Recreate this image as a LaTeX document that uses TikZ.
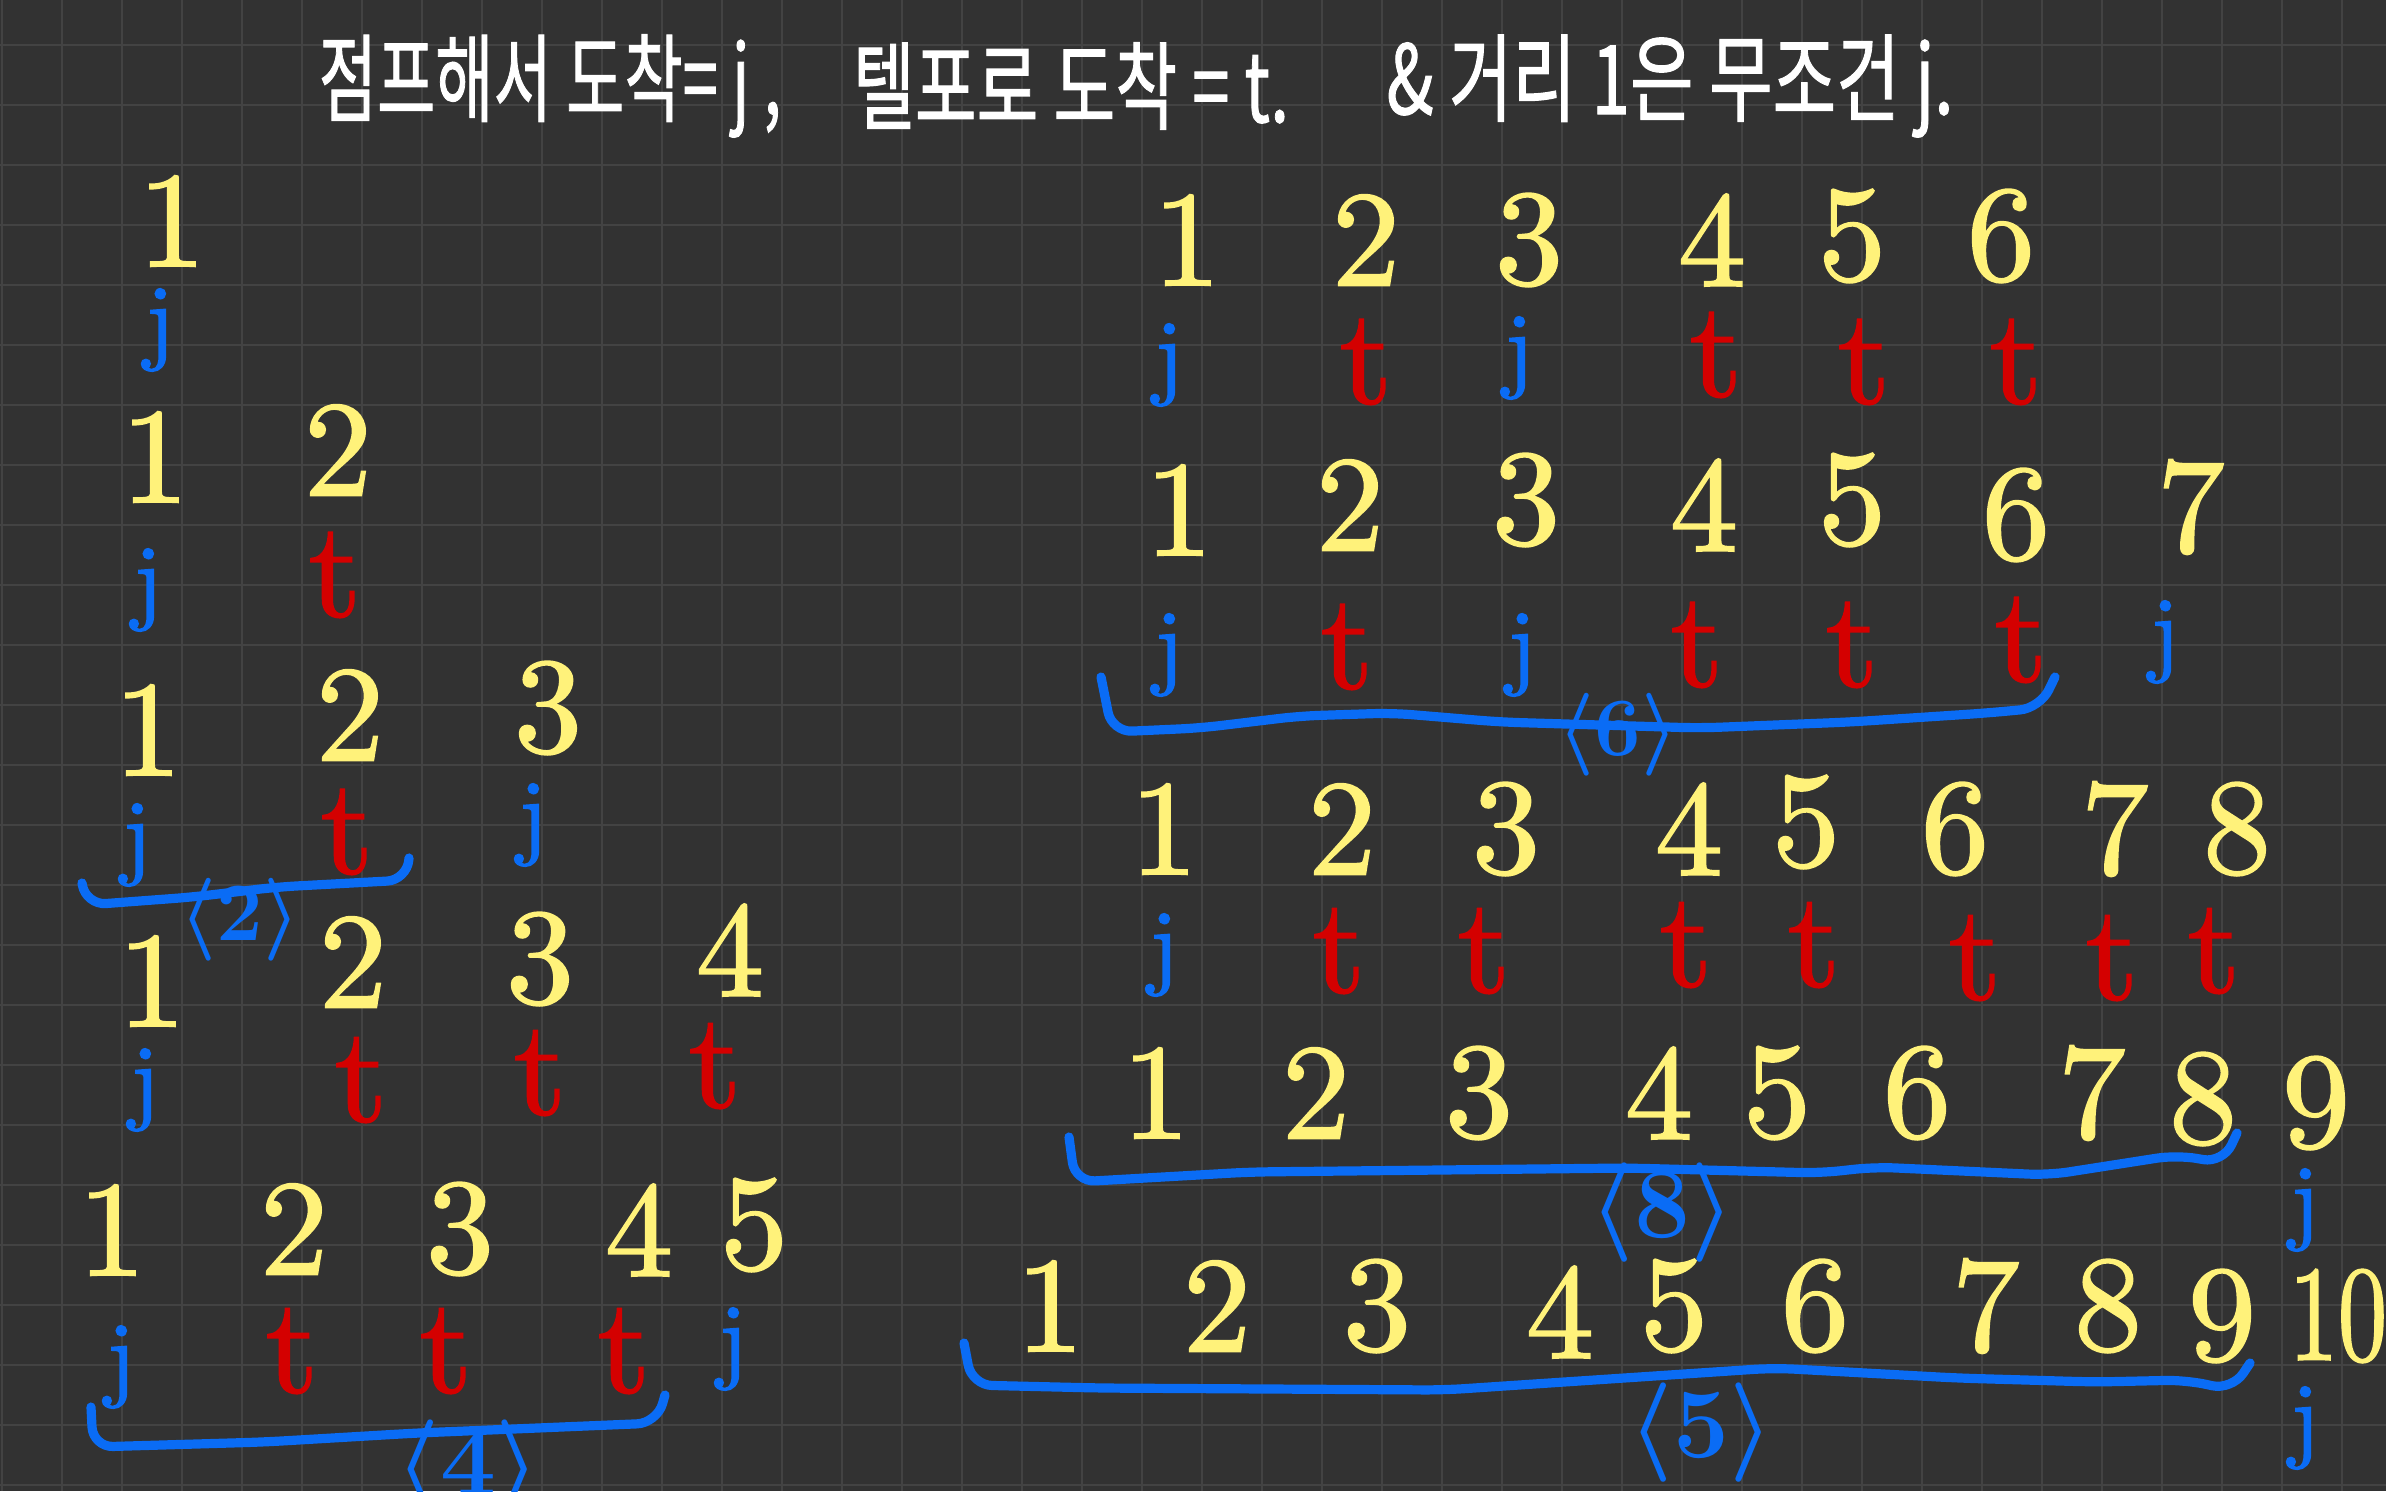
\documentclass[tikz,border=0pt]{standalone}
\usepackage{fontspec}
\usepackage{graphicx}
\newfontfamily\hangul{Noto Sans CJK KR}[FakeBold=1.2]
\newfontfamily\penfont{lmroman10-regular.otf}[FakeBold=1.4]
\definecolor{board}{HTML}{323232}
\definecolor{gridline}{HTML}{434343}
\definecolor{penyellow}{HTML}{FFF27A}
\definecolor{penj}{HTML}{0A6CF5}
\definecolor{pent}{HTML}{D40000}
\newcommand{\squeeze}[2][0.66]{\scalebox{#1}[1]{#2}}
\newcommand{\markfont}[1]{\penfont\if j#1\fontsize{24}{24}\else\fontsize{34}{34}\fi\selectfont}
\tikzset{
  num/.style={text=penyellow,font=\penfont\fontsize{34}{34}\selectfont,inner sep=0pt},
  arrive/.style={text=pen#1,font=\markfont{#1},inner sep=0pt},
  headline/.style={text=white,font=\hangul\fontsize{24}{24}\selectfont,inner sep=0pt},
  brace/.style={draw=penj,line width=2.3pt,line cap=round,line join=round,rounded corners=5pt},
  bracelabel/.style={text=penj,font=\fontsize{#1}{#1}\selectfont\boldmath,inner sep=0pt},
}
\begin{document}
\begin{tikzpicture}[x=0.25pt,y=-0.25pt]
  \clip (0,0) rectangle (2386,1491);
  \fill[board] (0,0) rectangle (2386,1491);
  \foreach \gx in {2,62,...,2386} \draw[gridline,line width=0.6pt] (\gx,0) -- (\gx,1491);
  \foreach \gy in {45,105,...,1491} \draw[gridline,line width=0.6pt] (0,\gy) -- (2386,\gy);

  % title
  \node[headline] (head1) at (550,86) {\squeeze{점프해서 도착= j ,}};
  \node[headline] (head2) at (1071,86) {\squeeze[0.7]{텔포로 도착 = t.}};
  \node[headline] (head3) at (1670,86) {\squeeze[0.72]{\& 거리 1은 무조건 j.}};

  % left column
  \node[num] (r1d1) at (172,221) {1};
  \node[arrive=j] (r1m1) at (160,330) {j};

  \foreach \x/\y/\n in {155/457/1,338/450/2}
    \node[num] (r2d\n) at (\x,\y) {\n};
  \foreach \x/\y/\c [count=\i] in {148/590/j,335/575/t}
    \node[arrive=\c] (r2m\i) at (\x,\y) {\c};

  \foreach \x/\y/\n in {148/730/1,350/715/2,548/708/3}
    \node[num] (r3d\n) at (\x,\y) {\n};
  \foreach \x/\y/\c [count=\i] in {137/845/j,347/832/t,533/825/j}
    \node[arrive=\c] (r3m\i) at (\x,\y) {\c};
  \draw[brace] (82,883) -- (86,905) -- (193,897) -- (277,887) -- (407,880) -- (409,858);
  \node[bracelabel=21] (r3len) at (240,920) {$\langle 2\rangle$};

  \foreach \x/\y/\n in {152/981/1,353/962/2,540/959/3,730/950/4}
    \node[num] (r4d\n) at (\x,\y) {\n};
  \foreach \x/\y/\c [count=\i] in {145/1090/j,361/1080/t,540/1073/t,715/1066/t}
    \node[arrive=\c] (r4m\i) at (\x,\y) {\c};

  \foreach \x/\y/\n in {112/1230/1,294/1229/2,460/1229/3,639/1230/4,754/1225/5}
    \node[num] (r5d\n) at (\x,\y) {\n};
  \foreach \x/\y/\c [count=\i] in {121/1367/j,292/1351/t,446/1351/t,624/1351/t,733/1349/j}
    \node[arrive=\c] (r5m\i) at (\x,\y) {\c};
  \draw[brace] (91,1407) -- (93,1447) -- (264,1442) -- (417,1433) -- (657,1423) -- (665,1395);
  \node[bracelabel=30] (r5len) at (468,1470) {$\langle 4\rangle$};

  % right column
  \foreach \x/\y/\n in {1187/240/1,1366/240/2,1529/240/3,1712/240/4,1852/236/5,2001/236/6}
    \node[num] (r6d\n) at (\x,\y) {\n};
  \foreach \x/\y/\c [count=\i] in {1169/365/j,1366/362/t,1519/358/j,1716/355/t,1864/362/t,2016/362/t}
    \node[arrive=\c] (r6m\i) at (\x,\y) {\c};

  \foreach \x/\y/\n in {1179/510/1,1350/505/2,1526/500/3,1704/505/4,1852/500/5,2016/515/6,2191/507/7}
    \node[num] (r7d\n) at (\x,\y) {\n};
  \foreach \x/\y/\c [count=\i] in {1169/655/j,1347/647/t,1522/655/j,1697/645/t,1852/645/t,2021/640/t,2165/642/j}
    \node[arrive=\c] (r7m\i) at (\x,\y) {\c};
  \draw[brace] (1101,677) -- (1112,732) -- (1200,728) -- (1300,716) -- (1392,713) -- (1500,722)
    -- (1700,728) -- (1850,722) -- (1987,713) -- (2040,708) -- (2055,677);
  \node[bracelabel=22] (r7len) at (1618,735) {$\langle 6\rangle$};

  \foreach \x/\y/\n in {1164/829/1,1342/829/2,1506/829/3,1689/829/4,1806/822/5,1955/829/6,2115/829/7,2237/829/8}
    \node[num] (r8d\n) at (\x,\y) {\n};
  \foreach \x/\y/\c [count=\i] in {1164/955/j,1339/951/t,1484/951/t,1686/945/t,1814/945/t,1975/958/t,2112/958/t,2214/951/t}
    \node[arrive=\c] (r8m\i) at (\x,\y) {\c};

  \foreach \x/\y/\n in {1156/1093/1,1316/1093/2,1479/1093/3,1659/1093/4,1777/1093/5,1917/1093/6,2092/1093/7,2203/1099/8,2316/1103/9}
    \node[num] (r9d\n) at (\x,\y) {\n};
  \node[arrive=j] (r9m9) at (2305,1210) {j};
  \draw[brace] (1069,1137) -- (1075,1182) -- (1250,1172) -- (1628,1168) -- (1820,1173) -- (1875,1167)
    -- (2049,1175) -- (2177,1155) -- (2223,1163) -- (2237,1133);
  \node[bracelabel=28] (r9len) at (1662,1213) {$\langle 8\rangle$};

  \foreach \x/\y/\n in {1050/1306/1,1217/1306/2,1377/1306/3,1560/1312/4,1674/1306/5,1815/1306/6,1986/1306/7,2108/1306/8,2222/1316/9}
    \node[num] (r10d\n) at (\x,\y) {\n};
  \node[num] (r10d10) at (2338,1316) {\squeeze[0.72]{10}};
  \node[arrive=j] (r10m10) at (2305,1428) {j};
  \draw[brace] (964,1343) -- (972,1385) -- (1100,1388) -- (1444,1390) -- (1774,1368) -- (1957,1378)
    -- (2095,1382) -- (2186,1380) -- (2232,1390) -- (2250,1363);
  \node[bracelabel=30] (r10len) at (1701,1433) {$\langle 5\rangle$};
\end{tikzpicture}
\end{document}
